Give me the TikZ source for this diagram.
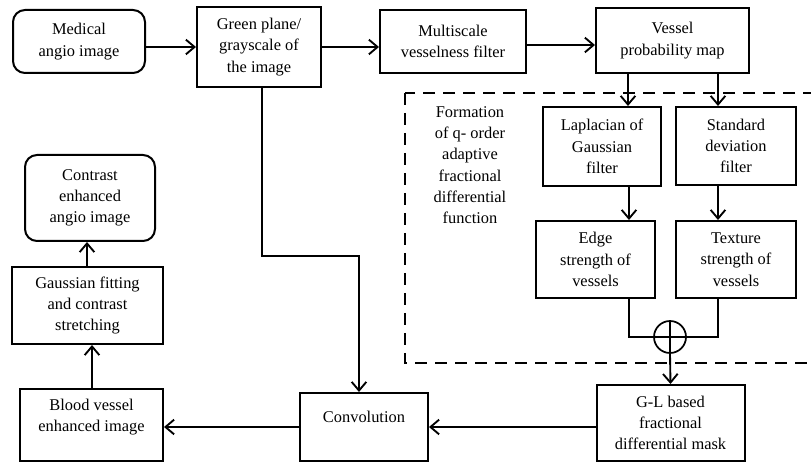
\documentclass[tikz,border=0pt]{standalone}
\usepackage{fontspec}
\setmainfont{Liberation Serif}
\usetikzlibrary{arrows.meta}
\begin{document}
\begin{tikzpicture}[x=0.75pt,y=-0.75pt,
  box/.style={draw,line width=1.5pt,inner sep=0pt,align=center,font=\fontsize{12.3}{16}\selectfont},
  rbox/.style={box,rounded corners=9pt},
  txt/.style={inner sep=0pt,align=center,font=\fontsize{12.3}{16}\selectfont},
  arr/.style={line width=1.4pt,-{Straight Barb[length=6.5pt,width=11pt,line width=1.4pt]}},
  ln/.style={line width=1.4pt},
  dashbox/.style={draw,line width=1.6pt,dash pattern=on 9pt off 6pt}]
\useasboundingbox (0,0) rectangle (811,463);
\clip (0,0) rectangle (811,463);
% nodes
\node[rbox,minimum width=132*0.75pt,minimum height=63*0.75pt] (med) at (79,41.5) {Medical\\angio image};
\node[box,minimum width=124*0.75pt,minimum height=80*0.75pt] (green) at (259,47) {Green plane/\\grayscale of\\the image};
\node[box,minimum width=146*0.75pt,minimum height=63*0.75pt] (multi) at (453,41.5) {Multiscale\\vesselness filter};
\node[box,minimum width=153*0.75pt,minimum height=65*0.75pt] (vpm) at (672.5,40.5) {Vessel\\probability map};
\draw[dashbox] (405,93) rectangle (830,363);
\node[txt] (form) at (470,165) {Formation\\of q- order\\adaptive\\fractional\\differential\\function};
\node[box,minimum width=118*0.75pt,minimum height=79*0.75pt] (lap) at (602,146.5) {Laplacian of\\Gaussian\\filter};
\node[box,minimum width=120*0.75pt,minimum height=78*0.75pt] (std) at (736,146) {Standard\\deviation\\filter};
\node[box,minimum width=119*0.75pt,minimum height=77*0.75pt] (edge) at (595.5,259.5) {Edge\\strength of\\vessels};
\node[box,minimum width=120*0.75pt,minimum height=77*0.75pt] (tex) at (736,259.5) {Texture\\strength of\\vessels};
\node[draw,circle,line width=1.3pt,minimum size=32*0.75pt,inner sep=0pt] (plus) at (670,337) {};
\node[box,minimum width=148*0.75pt,minimum height=76*0.75pt] (gl) at (670.5,423) {G-L based\\fractional\\differential mask};
\node[box,minimum width=128*0.75pt,minimum height=68*0.75pt] (conv) at (364,427) {};
\node[txt] (convt) at (364,417) {Convolution};
\node[box,minimum width=143*0.75pt,minimum height=72*0.75pt] (blood) at (91.5,425) {};
\node[txt] (bloodt) at (91.5,417) {Blood vessel\\enhanced image};
\node[box,minimum width=151*0.75pt,minimum height=77*0.75pt] (gauss) at (87.5,305.5) {Gaussian fitting\\and contrast\\stretching};
\node[rbox,minimum width=130*0.75pt,minimum height=86*0.75pt] (contrast) at (90,198) {Contrast\\enhanced\\angio image};
% helper coordinates
\coordinate (xa) at (628,0);
\coordinate (xb) at (718,0);
\coordinate (xc) at (629,0);
\coordinate (xg) at (262,0);
\coordinate (xd) at (92,0);
\coordinate (xe) at (87,0);
\coordinate (bend) at (359,256);
% connectors
\draw[arr] (med.east |- green.west) -- (green.west);
\draw[arr] (green.east) -- (green.east -| multi.west);
\draw[arr] (multi.east |- 0,45) -- (vpm.west |- 0,45);
\draw[arr] (vpm.south -| xa) -- (lap.north -| xa);
\draw[arr] (vpm.south -| xb) -- (std.north -| xb);
\draw[arr] (lap.south -| xc) -- (edge.north -| xc);
\draw[arr] (std.south -| xb) -- (tex.north -| xb);
\draw[ln] (edge.south -| xc) |- (plus.west);
\draw[ln] (tex.south -| xb) |- (plus.east);
\draw[line width=1.3pt] (plus.north) -- (plus.south);
\draw[line width=1.3pt] (plus.west) -- (plus.east);
\draw[arr] (plus.south) -- (gl.north);
\draw[arr] (gl.west |- conv) -- (conv.east);
\draw[arr] (conv.west) -- (blood.east |- conv);
\draw[arr] (blood.north -| xd) -- (gauss.south -| xd);
\draw[arr] (gauss.north -| xe) -- (contrast.south -| xe);
\draw[arr] (green.south -| xg) |- (bend) -- (conv.north -| bend);
\end{tikzpicture}
\end{document}
